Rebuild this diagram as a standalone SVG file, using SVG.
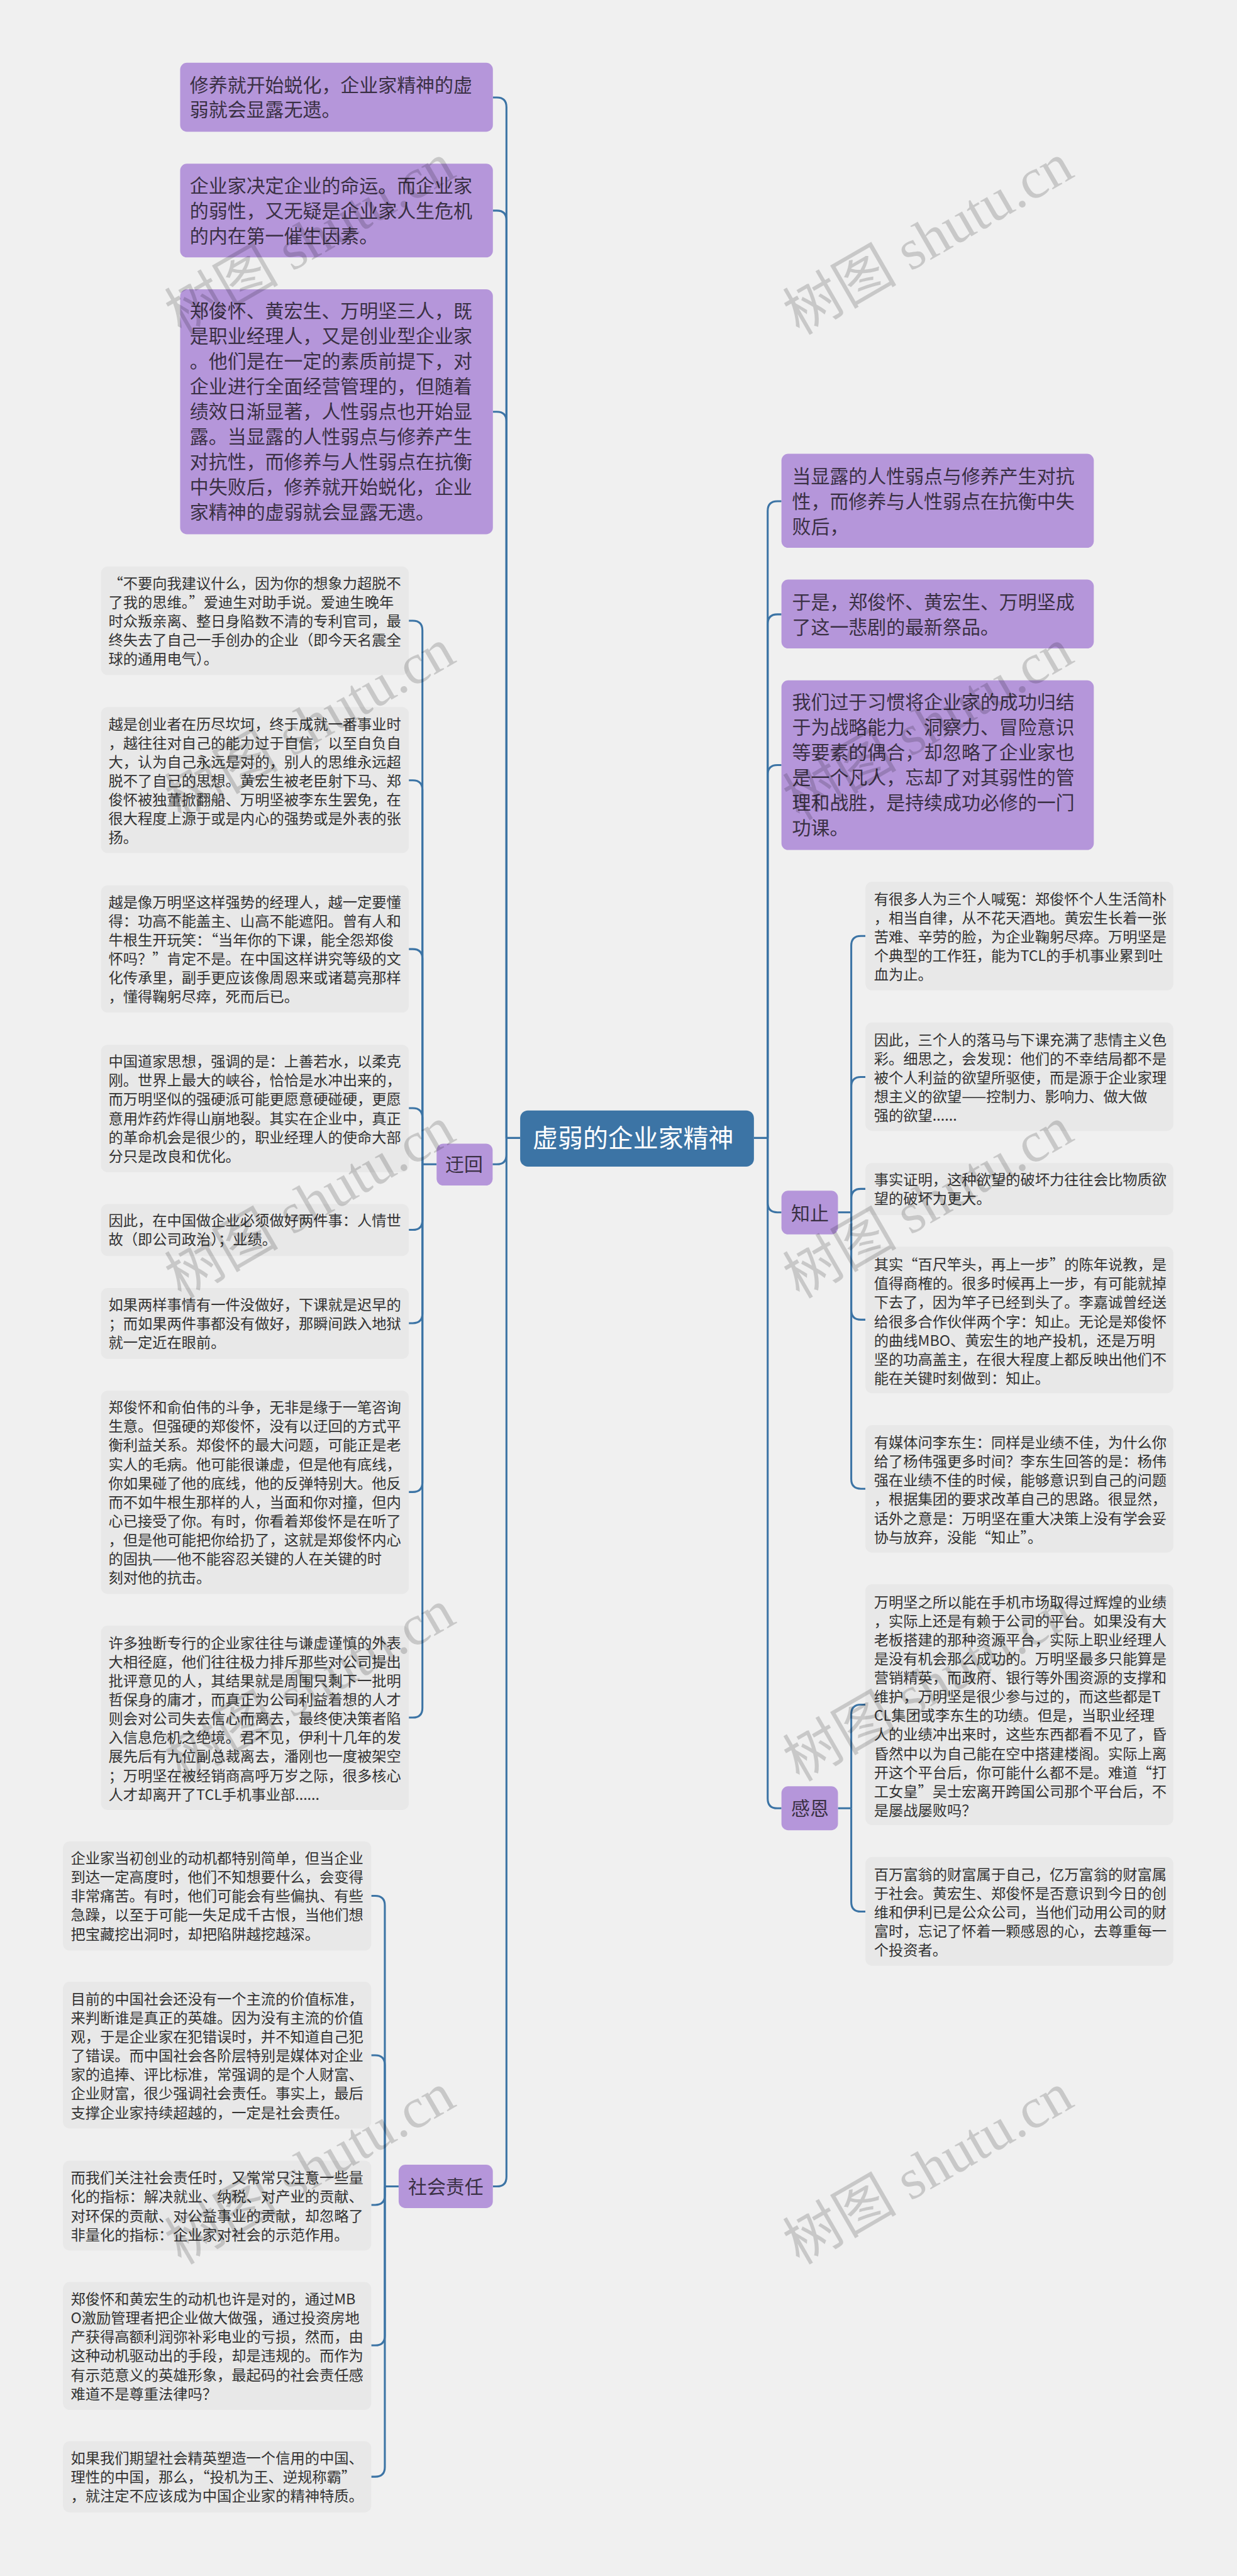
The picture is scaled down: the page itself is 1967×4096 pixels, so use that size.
<svg xmlns="http://www.w3.org/2000/svg" width="1967" height="4096" viewBox="0 0 1967 4096">
<style>
text{font-family:"Noto Sans CJK SC","Noto Sans",sans-serif;white-space:pre}
.c{fill:none;stroke:#3c74a5;stroke-width:4}
.p{fill:#b596da}
.g{fill:#e8e8e8}
.tp{font-size:39px;fill:#3a3044}
.tg{font-size:30.3px;fill:#333}
.tr{font-size:52px;fill:#fff}
.wm{font-family:"Liberation Serif","Noto Sans CJK SC",serif;font-size:118px;fill:#000;opacity:.16}
</style>
<rect width="1967" height="4096" fill="#f0f0f0"/>
<g transform="scale(0.768)">
<g id="connectors">
<path class="c" d="M1077 2356H1048.6M1561 2356H1589.5"/>
<path class="c" d="M1048.6 2356V221.8Q1048.6 201.8 1028.6 201.8H1020.5"/>
<path class="c" d="M1048.6 2356V456Q1048.6 436 1028.6 436H1020.5"/>
<path class="c" d="M1048.6 2356V872.6Q1048.6 852.6 1028.6 852.6H1020.5"/>
<path class="c" d="M1048.6 2356V2390.5Q1048.6 2410.5 1028.6 2410.5H1019.9"/>
<path class="c" d="M1048.6 2356V4506.7Q1048.6 4526.7 1028.6 4526.7H1020.5"/>
<path class="c" d="M1589.5 2356V1057.8Q1589.5 1037.8 1609.5 1037.8H1618"/>
<path class="c" d="M1589.5 2356V1292Q1589.5 1272 1609.5 1272H1618"/>
<path class="c" d="M1589.5 2356V1604Q1589.5 1584 1609.5 1584H1618"/>
<path class="c" d="M1589.5 2356V2490Q1589.5 2510 1609.5 2510H1618"/>
<path class="c" d="M1589.5 2356V3723.8Q1589.5 3743.8 1609.5 3743.8H1618"/>
<path class="c" d="M904 2410.5H874.6"/>
<path class="c" d="M874.6 2410.5V1305.2Q874.6 1285.2 854.6 1285.2H846.5"/>
<path class="c" d="M874.6 2410.5V1635.6Q874.6 1615.6 854.6 1615.6H846.5"/>
<path class="c" d="M874.6 2410.5V1985Q874.6 1965 854.6 1965H846.5"/>
<path class="c" d="M874.6 2410.5V2314.3Q874.6 2294.3 854.6 2294.3H846.5"/>
<path class="c" d="M874.6 2410.5V2526.3Q874.6 2546.3 854.6 2546.3H846.5"/>
<path class="c" d="M874.6 2410.5V2719.5Q874.6 2739.5 854.6 2739.5H846.5"/>
<path class="c" d="M874.6 2410.5V3069Q874.6 3089 854.6 3089H846.5"/>
<path class="c" d="M874.6 2410.5V3536Q874.6 3556 854.6 3556H846.5"/>
<path class="c" d="M825.4 4526.7H796.8"/>
<path class="c" d="M796.8 4526.7V3945.2Q796.8 3925.2 776.8 3925.2H768.7"/>
<path class="c" d="M796.8 4526.7V4275.3Q796.8 4255.3 776.8 4255.3H768.7"/>
<path class="c" d="M796.8 4526.7V4545Q796.8 4565 776.8 4565H768.7"/>
<path class="c" d="M796.8 4526.7V4835.8Q796.8 4855.8 776.8 4855.8H768.7"/>
<path class="c" d="M796.8 4526.7V5107.8Q796.8 5127.8 776.8 5127.8H768.7"/>
<path class="c" d="M1735 2510H1762.5"/>
<path class="c" d="M1762.5 2510V1957.8Q1762.5 1937.8 1782.5 1937.8H1791.8"/>
<path class="c" d="M1762.5 2510V2249.9Q1762.5 2229.9 1782.5 2229.9H1791.8"/>
<path class="c" d="M1762.5 2510V2481.4Q1762.5 2461.4 1782.5 2461.4H1791.8"/>
<path class="c" d="M1762.5 2510V2712.3Q1762.5 2732.3 1782.5 2732.3H1791.8"/>
<path class="c" d="M1762.5 2510V3062.3Q1762.5 3082.3 1782.5 3082.3H1791.8"/>
<path class="c" d="M1735 3743.8H1762.5"/>
<path class="c" d="M1762.5 3743.8V3549.3Q1762.5 3529.3 1782.5 3529.3H1791.8"/>
<path class="c" d="M1762.5 3743.8V3937.7Q1762.5 3957.7 1782.5 3957.7H1791.8"/>
</g>
<g id="root"><rect x="1077" y="2299" width="484" height="116.3" rx="16" fill="#3c74a5"/><text class="tr" x="1103" y="2375.5">虚弱的企业家精神</text></g>
<g id="n-yuhui"><rect class="p" x="904" y="2367.7" width="116" height="86.8" rx="14"/><text class="tp" x="922" y="2425">迂回</text></g>
<g id="n-zhizhi"><rect class="p" x="1618" y="2465.2" width="117" height="90.6" rx="14"/><text class="tp" x="1638" y="2525.5">知止</text></g>
<g id="n-ganen"><rect class="p" x="1618" y="3698.3" width="117" height="91" rx="14"/><text class="tp" x="1638" y="3758.3">感恩</text></g>
<g id="n-shehui"><rect class="p" x="825.4" y="4481.8" width="195" height="89.8" rx="14"/><text class="tp" x="845" y="4541.2">社会责任</text></g>

<g id="p1"><rect class="p" x="373" y="130" width="647.5" height="142.8" rx="14"/><text class="tp" y="189.5"><tspan x="393">修养就开始蜕化，企业家精神的虚</tspan><tspan x="393" dy="52">弱就会显露无遗。</tspan></text></g>
<g id="p2"><rect class="p" x="373" y="339" width="647.5" height="194" rx="14"/><text class="tp" y="399"><tspan x="393">企业家决定企业的命运。而企业家</tspan><tspan x="393" dy="52">的弱性，又无疑是企业家人生危机</tspan><tspan x="393" dy="52">的内在第一催生因素。</tspan></text></g>
<g id="p3"><rect class="p" x="373" y="599" width="647.5" height="507" rx="14"/><text class="tp" y="658"><tspan x="393">郑俊怀、黄宏生、万明坚三人，既</tspan><tspan x="393" dy="52">是职业经理人，又是创业型企业家</tspan><tspan x="393" dy="52">。他们是在一定的素质前提下，对</tspan><tspan x="393" dy="52">企业进行全面经营管理的，但随着</tspan><tspan x="393" dy="52">绩效日渐显著，人性弱点也开始显</tspan><tspan x="393" dy="52">露。当显露的人性弱点与修养产生</tspan><tspan x="393" dy="52">对抗性，而修养与人性弱点在抗衡</tspan><tspan x="393" dy="52">中失败后，修养就开始蜕化，企业</tspan><tspan x="393" dy="52">家精神的虚弱就会显露无遗。</tspan></text></g>

<g id="r1"><rect class="p" x="1618" y="939.6" width="646.7" height="194.6" rx="14"/><text class="tp" y="1000.5"><tspan x="1640">当显露的人性弱点与修养产生对抗</tspan><tspan x="1640" dy="52">性，而修养与人性弱点在抗衡中失</tspan><tspan x="1640" dy="52">败后，</tspan></text></g>
<g id="r2"><rect class="p" x="1618" y="1200" width="646.7" height="142.6" rx="14"/><text class="tp" y="1260.5"><tspan x="1640">于是，郑俊怀、黄宏生、万明坚成</tspan><tspan x="1640" dy="52">了这一悲剧的最新祭品。</tspan></text></g>
<g id="r3"><rect class="p" x="1618" y="1408.6" width="646.7" height="351.3" rx="14"/><text class="tp" y="1468"><tspan x="1640">我们过于习惯将企业家的成功归结</tspan><tspan x="1640" dy="52">于为战略能力、洞察力、冒险意识</tspan><tspan x="1640" dy="52">等要素的偶合，却忽略了企业家也</tspan><tspan x="1640" dy="52">是一个凡人，忘却了对其弱性的管</tspan><tspan x="1640" dy="52">理和战胜，是持续成功必修的一门</tspan><tspan x="1640" dy="52">功课。</tspan></text></g>

<g id="a"><rect class="g" x="209" y="1173" width="637.5" height="224.5" rx="14"/><text class="tg" y="1218.6"><tspan x="224.6">“不要向我建议什么，因为你的想象力超脱不</tspan><tspan x="224.6" dy="39.2">了我的思维。”爱迪生对助手说。爱迪生晚年</tspan><tspan x="224.6" dy="39.2">时众叛亲离、整日身陷数不清的专利官司，最</tspan><tspan x="224.6" dy="39.2">终失去了自己一手创办的企业（即今天名震全</tspan><tspan x="224.6" dy="39.2">球的通用电气）。</tspan></text></g>
<g id="b"><rect class="g" x="209" y="1463.8" width="637.5" height="302.2" rx="14"/><text class="tg" y="1510"><tspan x="224.6">越是创业者在历尽坎坷，终于成就一番事业时</tspan><tspan x="224.6" dy="39.2">，越往往对自己的能力过于自信，以至自负自</tspan><tspan x="224.6" dy="39.2">大，认为自己永远是对的，别人的思维永远超</tspan><tspan x="224.6" dy="39.2">脱不了自己的思想。黄宏生被老臣射下马、郑</tspan><tspan x="224.6" dy="39.2">俊怀被独董掀翻船、万明坚被李东生罢免，在</tspan><tspan x="224.6" dy="39.2">很大程度上源于或是内心的强势或是外表的张</tspan><tspan x="224.6" dy="39.2">扬。</tspan></text></g>
<g id="c"><rect class="g" x="209" y="1833" width="637.5" height="263.5" rx="14"/><text class="tg" y="1878.7"><tspan x="224.6">越是像万明坚这样强势的经理人，越一定要懂</tspan><tspan x="224.6" dy="39.2">得：功高不能盖主、山高不能遮阳。曾有人和</tspan><tspan x="224.6" dy="39.2">牛根生开玩笑：“当年你的下课，能全怨郑俊</tspan><tspan x="224.6" dy="39.2">怀吗？”肯定不是。在中国这样讲究等级的文</tspan><tspan x="224.6" dy="39.2">化传承里，副手更应该像周恩来或诸葛亮那样</tspan><tspan x="224.6" dy="39.2">，懂得鞠躬尽瘁，死而后已。</tspan></text></g>
<g id="d"><rect class="g" x="209" y="2163" width="637.5" height="264" rx="14"/><text class="tg" y="2208.6"><tspan x="224.6">中国道家思想，强调的是：上善若水，以柔克</tspan><tspan x="224.6" dy="39.2">刚。世界上最大的峡谷，恰恰是水冲出来的，</tspan><tspan x="224.6" dy="39.2">而万明坚似的强硬派可能更愿意硬碰硬，更愿</tspan><tspan x="224.6" dy="39.2">意用炸药炸得山崩地裂。其实在企业中，真正</tspan><tspan x="224.6" dy="39.2">的革命机会是很少的，职业经理人的使命大部</tspan><tspan x="224.6" dy="39.2">分只是改良和优化。</tspan></text></g>
<g id="e"><rect class="g" x="209" y="2492.7" width="637.5" height="107.8" rx="14"/><text class="tg" y="2538.2"><tspan x="224.6">因此，在中国做企业必须做好两件事：人情世</tspan><tspan x="224.6" dy="39.2">故（即公司政治）；业绩。</tspan></text></g>
<g id="f"><rect class="g" x="209" y="2666.8" width="637.5" height="146.7" rx="14"/><text class="tg" y="2712.2"><tspan x="224.6">如果两样事情有一件没做好，下课就是迟早的</tspan><tspan x="224.6" dy="39.2">；而如果两件事都没有做好，那瞬间跌入地狱</tspan><tspan x="224.6" dy="39.2">就一定近在眼前。</tspan></text></g>
<g id="g"><rect class="g" x="209" y="2879.2" width="637.5" height="420.8" rx="14"/><text class="tg" y="2924.8"><tspan x="224.6">郑俊怀和俞伯伟的斗争，无非是缘于一笔咨询</tspan><tspan x="224.6" dy="39.2">生意。但强硬的郑俊怀，没有以迂回的方式平</tspan><tspan x="224.6" dy="39.2">衡利益关系。郑俊怀的最大问题，可能正是老</tspan><tspan x="224.6" dy="39.2">实人的毛病。他可能很谦虚，但是他有底线，</tspan><tspan x="224.6" dy="39.2">你如果碰了他的底线，他的反弹特别大。他反</tspan><tspan x="224.6" dy="39.2">而不如牛根生那样的人，当面和你对撞，但内</tspan><tspan x="224.6" dy="39.2">心已接受了你。有时，你看着郑俊怀是在听了</tspan><tspan x="224.6" dy="39.2">，但是他可能把你给扔了，这就是郑俊怀内心</tspan><tspan x="224.6" dy="39.2">的固执——他不能容忍关键的人在关键的时</tspan><tspan x="224.6" dy="39.2">刻对他的抗击。</tspan></text></g>
<g id="h"><rect class="g" x="209" y="3365.6" width="637.5" height="381.7" rx="14"/><text class="tg" y="3412.5"><tspan x="224.6">许多独断专行的企业家往往与谦虚谨慎的外表</tspan><tspan x="224.6" dy="39.2">大相径庭，他们往往极力排斥那些对公司提出</tspan><tspan x="224.6" dy="39.2">批评意见的人，其结果就是周围只剩下一批明</tspan><tspan x="224.6" dy="39.2">哲保身的庸才，而真正为公司利益着想的人才</tspan><tspan x="224.6" dy="39.2">则会对公司失去信心而离去，最终使决策者陷</tspan><tspan x="224.6" dy="39.2">入信息危机之绝境。君不见，伊利十几年的发</tspan><tspan x="224.6" dy="39.2">展先后有九位副总裁离去，潘刚也一度被架空</tspan><tspan x="224.6" dy="39.2">；万明坚在被经销商高呼万岁之际，很多核心</tspan><tspan x="224.6" dy="39.2">人才却离开了TCL手机事业部......</tspan></text></g>

<g id="s1"><rect class="g" x="130.4" y="3812.4" width="638.3" height="226.1" rx="14"/><text class="tg" y="3858.2"><tspan x="146.4">企业家当初创业的动机都特别简单，但当企业</tspan><tspan x="146.4" dy="39.2">到达一定高度时，他们不知想要什么，会变得</tspan><tspan x="146.4" dy="39.2">非常痛苦。有时，他们可能会有些偏执、有些</tspan><tspan x="146.4" dy="39.2">急躁，以至于可能一失足成千古恨，当他们想</tspan><tspan x="146.4" dy="39.2">把宝藏挖出洞时，却把陷阱越挖越深。</tspan></text></g>
<g id="s2"><rect class="g" x="130.4" y="4103" width="638.3" height="303.8" rx="14"/><text class="tg" y="4149.7"><tspan x="146.4">目前的中国社会还没有一个主流的价值标准，</tspan><tspan x="146.4" dy="39.2">来判断谁是真正的英雄。因为没有主流的价值</tspan><tspan x="146.4" dy="39.2">观，于是企业家在犯错误时，并不知道自己犯</tspan><tspan x="146.4" dy="39.2">了错误。而中国社会各阶层特别是媒体对企业</tspan><tspan x="146.4" dy="39.2">家的追捧、评比标准，常强调的是个人财富、</tspan><tspan x="146.4" dy="39.2">企业财富，很少强调社会责任。事实上，最后</tspan><tspan x="146.4" dy="39.2">支撑企业家持续超越的，一定是社会责任。</tspan></text></g>
<g id="s3"><rect class="g" x="130.4" y="4473.2" width="638.3" height="186.2" rx="14"/><text class="tg" y="4520"><tspan x="146.4">而我们关注社会责任时，又常常只注意一些量</tspan><tspan x="146.4" dy="39.2">化的指标：解决就业、纳税、对产业的贡献、</tspan><tspan x="146.4" dy="39.2">对环保的贡献、对公益事业的贡献，却忽略了</tspan><tspan x="146.4" dy="39.2">非量化的指标：企业家对社会的示范作用。</tspan></text></g>
<g id="s4"><rect class="g" x="130.4" y="4724.7" width="638.3" height="264.8" rx="14"/><text class="tg" y="4771"><tspan x="146.4">郑俊怀和黄宏生的动机也许是对的，通过MB</tspan><tspan x="146.4" dy="39.2">O激励管理者把企业做大做强，通过投资房地</tspan><tspan x="146.4" dy="39.2">产获得高额利润弥补彩电业的亏损，然而，由</tspan><tspan x="146.4" dy="39.2">这种动机驱动出的手段，却是违规的。而作为</tspan><tspan x="146.4" dy="39.2">有示范意义的英雄形象，最起码的社会责任感</tspan><tspan x="146.4" dy="39.2">难道不是尊重法律吗？</tspan></text></g>
<g id="s5"><rect class="g" x="130.4" y="5054.3" width="638.3" height="147.4" rx="14"/><text class="tg" y="5100"><tspan x="146.4">如果我们期望社会精英塑造一个信用的中国、</tspan><tspan x="146.4" dy="39.2">理性的中国，那么，“投机为王、逆规称霸”</tspan><tspan x="146.4" dy="39.2">，就注定不应该成为中国企业家的精神特质。</tspan></text></g>

<g id="k1"><rect class="g" x="1791.8" y="1825.5" width="637.7" height="225.1" rx="14"/><text class="tg" y="1872.4"><tspan x="1809.6">有很多人为三个人喊冤：郑俊怀个人生活简朴</tspan><tspan x="1809.6" dy="39.2">，相当自律，从不花天酒地。黄宏生长着一张</tspan><tspan x="1809.6" dy="39.2">苦难、辛劳的脸，为企业鞠躬尽瘁。万明坚是</tspan><tspan x="1809.6" dy="39.2">个典型的工作狂，能为TCL的手机事业累到吐</tspan><tspan x="1809.6" dy="39.2">血为止。</tspan></text></g>
<g id="k2"><rect class="g" x="1791.8" y="2117" width="637.7" height="224.5" rx="14"/><text class="tg" y="2163.9"><tspan x="1809.6">因此，三个人的落马与下课充满了悲情主义色</tspan><tspan x="1809.6" dy="39.2">彩。细思之，会发现：他们的不幸结局都不是</tspan><tspan x="1809.6" dy="39.2">被个人利益的欲望所驱使，而是源于企业家理</tspan><tspan x="1809.6" dy="39.2">想主义的欲望——控制力、影响力、做大做</tspan><tspan x="1809.6" dy="39.2">强的欲望......</tspan></text></g>
<g id="k3"><rect class="g" x="1791.8" y="2407.8" width="637.7" height="107.8" rx="14"/><text class="tg" y="2453.5"><tspan x="1809.6">事实证明，这种欲望的破坏力往往会比物质欲</tspan><tspan x="1809.6" dy="39.2">望的破坏力更大。</tspan></text></g>
<g id="k4"><rect class="g" x="1791.8" y="2581" width="637.7" height="303.5" rx="14"/><text class="tg" y="2629.2"><tspan x="1809.6">其实“百尺竿头，再上一步”的陈年说教，是</tspan><tspan x="1809.6" dy="39.2">值得商榷的。很多时候再上一步，有可能就掉</tspan><tspan x="1809.6" dy="39.2">下去了，因为竿子已经到头了。李嘉诚曾经送</tspan><tspan x="1809.6" dy="39.2">给很多合作伙伴两个字：知止。无论是郑俊怀</tspan><tspan x="1809.6" dy="39.2">的曲线MBO、黄宏生的地产投机，还是万明</tspan><tspan x="1809.6" dy="39.2">坚的功高盖主，在很大程度上都反映出他们不</tspan><tspan x="1809.6" dy="39.2">能在关键时刻做到：知止。</tspan></text></g>
<g id="k5"><rect class="g" x="1791.8" y="2950.6" width="637.7" height="263.8" rx="14"/><text class="tg" y="2997.5"><tspan x="1809.6">有媒体问李东生：同样是业绩不佳，为什么你</tspan><tspan x="1809.6" dy="39.2">给了杨伟强更多时间？李东生回答的是：杨伟</tspan><tspan x="1809.6" dy="39.2">强在业绩不佳的时候，能够意识到自己的问题</tspan><tspan x="1809.6" dy="39.2">，根据集团的要求改革自己的思路。很显然，</tspan><tspan x="1809.6" dy="39.2">话外之意是：万明坚在重大决策上没有学会妥</tspan><tspan x="1809.6" dy="39.2">协与放弃，没能“知止”。</tspan></text></g>
<g id="q1"><rect class="g" x="1791.8" y="3279.9" width="637.7" height="498.9" rx="14"/><text class="tg" y="3327.7"><tspan x="1809.6">万明坚之所以能在手机市场取得过辉煌的业绩</tspan><tspan x="1809.6" dy="39.2">，实际上还是有赖于公司的平台。如果没有大</tspan><tspan x="1809.6" dy="39.2">老板搭建的那种资源平台，实际上职业经理人</tspan><tspan x="1809.6" dy="39.2">是没有机会那么成功的。万明坚最多只能算是</tspan><tspan x="1809.6" dy="39.2">营销精英，而政府、银行等外围资源的支撑和</tspan><tspan x="1809.6" dy="39.2">维护，万明坚是很少参与过的，而这些都是T</tspan><tspan x="1809.6" dy="39.2">CL集团或李东生的功绩。但是，当职业经理</tspan><tspan x="1809.6" dy="39.2">人的业绩冲出来时，这些东西都看不见了，昏</tspan><tspan x="1809.6" dy="39.2">昏然中以为自己能在空中搭建楼阁。实际上离</tspan><tspan x="1809.6" dy="39.2">开这个平台后，你可能什么都不是。难道“打</tspan><tspan x="1809.6" dy="39.2">工女皇”吴士宏离开跨国公司那个平台后，不</tspan><tspan x="1809.6" dy="39.2">是屡战屡败吗？</tspan></text></g>
<g id="q2"><rect class="g" x="1791.8" y="3844.7" width="637.7" height="225.3" rx="14"/><text class="tg" y="3892"><tspan x="1809.6">百万富翁的财富属于自己，亿万富翁的财富属</tspan><tspan x="1809.6" dy="39.2">于社会。黄宏生、郑俊怀是否意识到今日的创</tspan><tspan x="1809.6" dy="39.2">维和伊利已是公众公司，当他们动用公司的财</tspan><tspan x="1809.6" dy="39.2">富时，忘记了怀着一颗感恩的心，去尊重每一</tspan><tspan x="1809.6" dy="39.2">个投资者。</tspan></text></g>

<g id="watermarks">
<text class="wm" transform="translate(375 695) rotate(-30)">树图 shutu.cn</text>
<text class="wm" transform="translate(375 1700) rotate(-30)">树图 shutu.cn</text>
<text class="wm" transform="translate(375 2690) rotate(-30)">树图 shutu.cn</text>
<text class="wm" transform="translate(375 3690) rotate(-30)">树图 shutu.cn</text>
<text class="wm" transform="translate(375 4690) rotate(-30)">树图 shutu.cn</text>
<text class="wm" transform="translate(1655 695) rotate(-30)">树图 shutu.cn</text>
<text class="wm" transform="translate(1655 1700) rotate(-30)">树图 shutu.cn</text>
<text class="wm" transform="translate(1655 2690) rotate(-30)">树图 shutu.cn</text>
<text class="wm" transform="translate(1655 3690) rotate(-30)">树图 shutu.cn</text>
<text class="wm" transform="translate(1655 4690) rotate(-30)">树图 shutu.cn</text>
</g>
</g>
</svg>
